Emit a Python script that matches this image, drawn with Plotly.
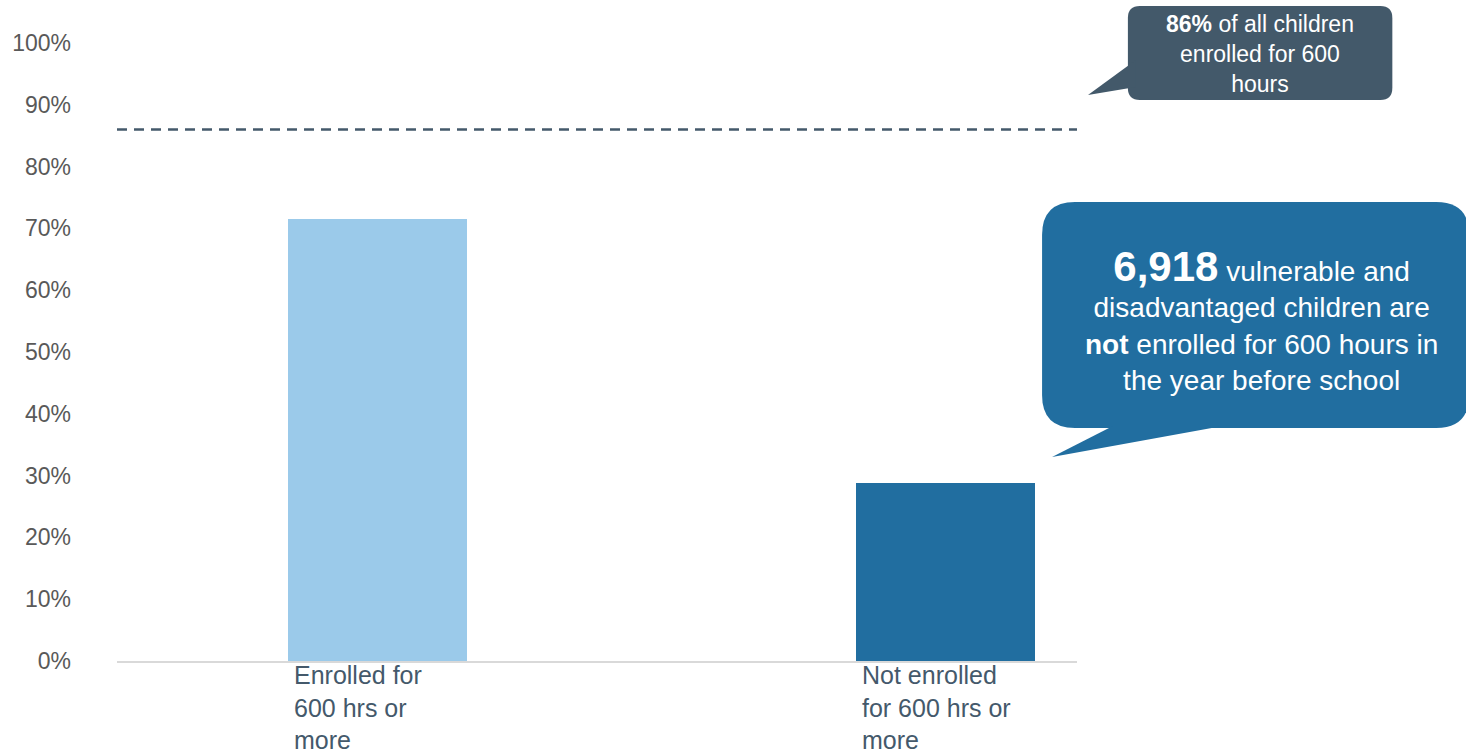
import plotly.graph_objects as go

# ---- data ----
categories = ["Enrolled for<br>600 hrs or<br>more", "Not enrolled<br>for 600 hrs or<br>more"]
shares = [0.715, 0.288]
bar_colors = ["#9BCAEA", "#216EA0"]
all_children_share = 0.86
y_ticks = [0, 0.1, 0.2, 0.3, 0.4, 0.5, 0.6, 0.7, 0.8, 0.9, 1.0]
y_tick_labels = ["0%", "10%", "20%", "30%", "40%", "50%", "60%", "70%", "80%", "90%", "100%"]
callout_small = "<b>86%</b> of all children<br>enrolled for 600<br>hours"
callout_big = ("<span style='font-size:42px'><b>6,918</b></span> vulnerable and<br>"
               "disadvantaged children are<br><b>not</b> enrolled for 600 hours in<br>"
               "the year before school")

W, H = 1466, 754
L, R, T, B = 115, 1077, 43, 661  # plot area in pixels
FONT = "Liberation Sans, Arial, sans-serif"
BAR_W = 0.315

def px(x):
    return (x - L) / (R - L)

def py(y):
    return (B - y) / (B - T)

def rounded_rect(x0, y0, x1, y1, r):
    pts = [
        f"M {px(x0 + r)} {py(y0)}",
        f"L {px(x1 - r)} {py(y0)}",
        f"Q {px(x1)} {py(y0)} {px(x1)} {py(y0 + r)}",
        f"L {px(x1)} {py(y1 - r)}",
        f"Q {px(x1)} {py(y1)} {px(x1 - r)} {py(y1)}",
        f"L {px(x0 + r)} {py(y1)}",
        f"Q {px(x0)} {py(y1)} {px(x0)} {py(y1 - r)}",
        f"L {px(x0)} {py(y0 + r)}",
        f"Q {px(x0)} {py(y0)} {px(x0 + r)} {py(y0)}",
        "Z",
    ]
    return " ".join(pts)

def tri(points):
    s = f"M {px(points[0][0])} {py(points[0][1])}"
    for p in points[1:]:
        s += f" L {px(p[0])} {py(p[1])}"
    return s + " Z"

xpos = list(range(len(categories)))

fig = go.Figure()
fig.add_trace(go.Bar(
    x=xpos, y=shares, width=BAR_W,
    marker=dict(color=bar_colors, line=dict(width=0)),
    hoverinfo="skip", showlegend=False,
))

shapes = [
    dict(type="line", xref="paper", yref="y", x0=0, x1=1,
         y0=all_children_share, y1=all_children_share,
         line=dict(color="#44596B", width=2.5, dash="10px,7px")),
    # callout 1
    dict(type="path", xref="paper", yref="paper", path=rounded_rect(1128, 6, 1393, 100, 12),
         fillcolor="#43596A", line=dict(width=0), layer="above"),
    dict(type="path", xref="paper", yref="paper", path=tri([(1136, 60), (1088, 95), (1136, 87)]),
         fillcolor="#43596A", line=dict(width=0), layer="above"),
    # callout 2
    dict(type="path", xref="paper", yref="paper", path=rounded_rect(1042, 202, 1470, 428, 33),
         fillcolor="#216EA0", line=dict(width=0), layer="above"),
    dict(type="path", xref="paper", yref="paper", path=tri([(1113, 426), (1052, 457), (1223, 426)]),
         fillcolor="#216EA0", line=dict(width=0), layer="above"),
]

annotations = []
for i, c in enumerate(categories):
    annotations.append(dict(
        x=xpos[i] - BAR_W / 2, xref="x", y=0, yref="paper",
        xanchor="left", yanchor="top", xshift=4, yshift=2,
        text=c, align="left", showarrow=False,
        font=dict(family=FONT, size=25, color="#44596B"),
    ))

annotations.append(dict(
    x=px(1260), y=py(54), xref="paper", yref="paper",
    xanchor="center", yanchor="middle", text=callout_small, align="center",
    showarrow=False, font=dict(family=FONT, size=23, color="white"),
))
annotations.append(dict(
    x=px(1262), y=py(320), xref="paper", yref="paper",
    xanchor="center", yanchor="middle", text=callout_big, align="center",
    showarrow=False, font=dict(family=FONT, size=28, color="white"),
))

fig.update_layout(
    width=W, height=H,
    margin=dict(l=L, r=W - R, t=T, b=H - B),
    paper_bgcolor="white", plot_bgcolor="white",
    shapes=shapes, annotations=annotations,
    font=dict(family=FONT),
    xaxis=dict(range=[-0.459, 1.232], showticklabels=False, showgrid=False,
               zeroline=False, showline=True, linecolor="#D9D9D9", linewidth=2,
               ticks="", fixedrange=True),
    yaxis=dict(range=[0, 1.0], tickvals=y_ticks, ticktext=y_tick_labels,
               showgrid=False, zeroline=False, showline=False, ticks="",
               ticklabelstandoff=45, fixedrange=True,
               tickfont=dict(family=FONT, size=23, color="#595959")),
    bargap=0,
)

fig.write_html(
    "out.html",
    config={"displayModeBar": False},
    post_script="document.body.style.margin='0';document.body.style.overflow='hidden';",
)
